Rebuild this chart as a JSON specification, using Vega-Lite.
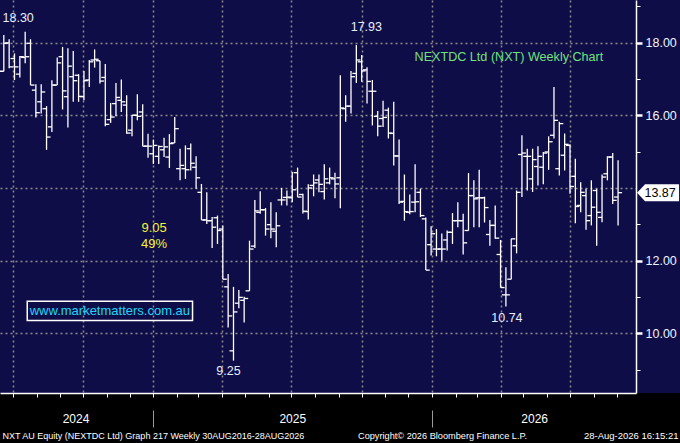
{
  "$schema": "https://vega.github.io/schema/vega-lite/v6.json",
  "width": 680,
  "height": 393,
  "autosize": "none",
  "padding": {"left": 0, "top": 0, "right": 0, "bottom": 50},
  "background": "#000000",
  "config": {
    "view": {"stroke": null, "fill": "#0f0d47"},
    "axis": {"labelFont": "Liberation Sans, Arial, sans-serif", "titleFont": "Liberation Sans, Arial, sans-serif"},
    "text": {"font": "Liberation Sans, Arial, sans-serif"}
  },
  "datasets": {
    "bars": [
      {"date": "2024-06-19", "open": 17.21, "high": 18.21, "low": 17.21, "close": 17.98},
      {"date": "2024-06-26", "open": 17.99, "high": 18.09, "low": 17.29, "close": 17.33},
      {"date": "2024-07-03", "open": 17.56, "high": 17.70, "low": 16.97, "close": 17.33},
      {"date": "2024-07-10", "open": 17.13, "high": 17.63, "low": 17.04, "close": 17.61},
      {"date": "2024-07-17", "open": 17.59, "high": 18.30, "low": 17.43, "close": 17.61},
      {"date": "2024-07-24", "open": 17.98, "high": 18.09, "low": 16.83, "close": 16.83},
      {"date": "2024-07-31", "open": 16.69, "high": 16.85, "low": 15.94, "close": 16.07},
      {"date": "2024-08-07", "open": 16.37, "high": 16.85, "low": 16.05, "close": 16.64},
      {"date": "2024-08-14", "open": 16.18, "high": 16.25, "low": 15.05, "close": 15.40},
      {"date": "2024-08-21", "open": 15.68, "high": 16.96, "low": 15.54, "close": 16.83},
      {"date": "2024-08-28", "open": 16.83, "high": 17.59, "low": 16.83, "close": 17.44},
      {"date": "2024-09-04", "open": 17.61, "high": 17.88, "low": 16.16, "close": 16.67},
      {"date": "2024-09-11", "open": 16.51, "high": 17.84, "low": 15.66, "close": 17.35},
      {"date": "2024-09-18", "open": 17.06, "high": 17.77, "low": 16.37, "close": 16.95},
      {"date": "2024-09-25", "open": 17.10, "high": 17.13, "low": 16.37, "close": 16.52},
      {"date": "2024-10-02", "open": 16.51, "high": 17.22, "low": 16.41, "close": 16.95},
      {"date": "2024-10-09", "open": 16.97, "high": 17.52, "low": 16.78, "close": 17.47},
      {"date": "2024-10-16", "open": 17.52, "high": 17.81, "low": 17.31, "close": 17.54},
      {"date": "2024-10-23", "open": 17.50, "high": 17.50, "low": 16.87, "close": 16.94},
      {"date": "2024-10-30", "open": 17.04, "high": 17.41, "low": 15.70, "close": 15.75},
      {"date": "2024-11-06", "open": 15.88, "high": 16.34, "low": 15.79, "close": 15.95},
      {"date": "2024-11-13", "open": 16.32, "high": 16.89, "low": 15.97, "close": 16.49},
      {"date": "2024-11-20", "open": 16.41, "high": 16.98, "low": 16.09, "close": 16.37},
      {"date": "2024-11-27", "open": 16.28, "high": 16.55, "low": 15.49, "close": 15.51},
      {"date": "2024-12-04", "open": 15.59, "high": 16.00, "low": 15.42, "close": 16.00},
      {"date": "2024-12-11", "open": 16.00, "high": 16.58, "low": 15.86, "close": 15.97},
      {"date": "2024-12-18", "open": 16.09, "high": 16.30, "low": 15.15, "close": 15.15},
      {"date": "2024-12-25", "open": 15.15, "high": 15.49, "low": 14.83, "close": 15.15},
      {"date": "2025-01-01", "open": 14.94, "high": 15.33, "low": 14.66, "close": 15.17},
      {"date": "2025-01-08", "open": 14.87, "high": 15.17, "low": 14.66, "close": 15.14},
      {"date": "2025-01-15", "open": 15.05, "high": 15.38, "low": 14.85, "close": 15.13},
      {"date": "2025-01-22", "open": 14.85, "high": 15.48, "low": 14.55, "close": 15.22},
      {"date": "2025-01-29", "open": 15.24, "high": 15.95, "low": 15.24, "close": 15.63},
      {"date": "2025-02-05", "open": 14.53, "high": 15.08, "low": 14.21, "close": 14.62},
      {"date": "2025-02-12", "open": 14.53, "high": 15.17, "low": 14.25, "close": 14.50},
      {"date": "2025-02-19", "open": 15.08, "high": 15.22, "low": 14.48, "close": 14.68},
      {"date": "2025-02-26", "open": 14.57, "high": 14.87, "low": 13.98, "close": 14.28},
      {"date": "2025-03-05", "open": 13.88, "high": 14.11, "low": 13.12, "close": 13.12},
      {"date": "2025-03-12", "open": 13.12, "high": 13.88, "low": 13.01, "close": 13.10},
      {"date": "2025-03-19", "open": 13.10, "high": 13.20, "low": 12.35, "close": 12.92},
      {"date": "2025-03-26", "open": 13.18, "high": 13.24, "low": 12.46, "close": 12.83},
      {"date": "2025-04-02", "open": 12.87, "high": 12.97, "low": 11.49, "close": 11.49},
      {"date": "2025-04-09", "open": 11.28, "high": 11.63, "low": 10.16, "close": 10.48},
      {"date": "2025-04-16", "open": 9.52, "high": 11.28, "low": 9.25, "close": 10.59},
      {"date": "2025-04-23", "open": 10.83, "high": 11.19, "low": 10.69, "close": 10.99},
      {"date": "2025-04-30", "open": 10.91, "high": 11.01, "low": 10.30, "close": 10.96},
      {"date": "2025-05-07", "open": 11.17, "high": 12.55, "low": 11.17, "close": 12.32},
      {"date": "2025-05-14", "open": 12.40, "high": 13.67, "low": 12.35, "close": 13.37},
      {"date": "2025-05-21", "open": 13.33, "high": 13.91, "low": 13.29, "close": 13.40},
      {"date": "2025-05-28", "open": 13.40, "high": 13.45, "low": 12.69, "close": 12.87},
      {"date": "2025-06-04", "open": 12.99, "high": 13.61, "low": 12.62, "close": 12.87},
      {"date": "2025-06-11", "open": 12.81, "high": 13.33, "low": 12.37, "close": 12.96},
      {"date": "2025-06-18", "open": 13.67, "high": 14.00, "low": 13.52, "close": 13.67},
      {"date": "2025-06-25", "open": 13.74, "high": 13.93, "low": 13.52, "close": 13.75},
      {"date": "2025-07-02", "open": 13.73, "high": 14.44, "low": 13.61, "close": 13.95},
      {"date": "2025-07-09", "open": 14.42, "high": 14.56, "low": 13.75, "close": 13.75},
      {"date": "2025-07-16", "open": 13.82, "high": 13.84, "low": 13.30, "close": 13.36},
      {"date": "2025-07-23", "open": 13.35, "high": 14.10, "low": 13.13, "close": 14.00},
      {"date": "2025-07-30", "open": 14.07, "high": 14.37, "low": 13.77, "close": 14.14},
      {"date": "2025-08-06", "open": 14.22, "high": 14.37, "low": 13.88, "close": 14.10},
      {"date": "2025-08-13", "open": 13.90, "high": 14.65, "low": 13.68, "close": 14.25},
      {"date": "2025-08-20", "open": 14.14, "high": 14.56, "low": 14.10, "close": 14.28},
      {"date": "2025-08-27", "open": 14.25, "high": 14.42, "low": 13.72, "close": 14.11},
      {"date": "2025-09-03", "open": 14.28, "high": 17.10, "low": 13.44, "close": 16.20},
      {"date": "2025-09-10", "open": 16.18, "high": 16.55, "low": 15.82, "close": 16.25},
      {"date": "2025-09-17", "open": 16.25, "high": 17.22, "low": 16.05, "close": 17.06},
      {"date": "2025-09-24", "open": 17.15, "high": 17.93, "low": 16.89, "close": 17.52},
      {"date": "2025-10-01", "open": 17.47, "high": 17.66, "low": 16.92, "close": 17.22},
      {"date": "2025-10-08", "open": 17.25, "high": 17.32, "low": 16.32, "close": 16.93},
      {"date": "2025-10-15", "open": 16.66, "high": 16.97, "low": 15.72, "close": 16.66},
      {"date": "2025-10-22", "open": 15.97, "high": 16.12, "low": 15.42, "close": 15.70},
      {"date": "2025-10-29", "open": 15.91, "high": 16.40, "low": 15.68, "close": 15.94},
      {"date": "2025-11-05", "open": 16.14, "high": 16.21, "low": 15.36, "close": 15.51},
      {"date": "2025-11-12", "open": 15.50, "high": 16.37, "low": 14.62, "close": 14.88},
      {"date": "2025-11-19", "open": 14.88, "high": 15.33, "low": 13.56, "close": 13.61},
      {"date": "2025-11-26", "open": 13.63, "high": 14.37, "low": 13.10, "close": 13.35},
      {"date": "2025-12-03", "open": 13.33, "high": 13.82, "low": 13.28, "close": 13.35},
      {"date": "2025-12-10", "open": 13.61, "high": 14.65, "low": 13.33, "close": 13.62},
      {"date": "2025-12-17", "open": 13.88, "high": 13.98, "low": 13.20, "close": 13.24},
      {"date": "2025-12-24", "open": 13.15, "high": 13.19, "low": 11.74, "close": 11.74},
      {"date": "2025-12-31", "open": 12.44, "high": 12.95, "low": 12.14, "close": 12.74},
      {"date": "2026-01-07", "open": 12.32, "high": 12.87, "low": 12.12, "close": 12.32},
      {"date": "2026-01-14", "open": 12.32, "high": 12.75, "low": 12.00, "close": 12.32},
      {"date": "2026-01-21", "open": 12.57, "high": 12.83, "low": 12.28, "close": 12.78},
      {"date": "2026-01-28", "open": 12.78, "high": 13.31, "low": 12.46, "close": 13.10},
      {"date": "2026-02-04", "open": 13.10, "high": 13.61, "low": 12.92, "close": 13.10},
      {"date": "2026-02-11", "open": 13.10, "high": 13.29, "low": 12.17, "close": 12.49},
      {"date": "2026-02-18", "open": 12.83, "high": 14.41, "low": 12.83, "close": 13.79},
      {"date": "2026-02-25", "open": 13.79, "high": 14.21, "low": 12.92, "close": 13.70},
      {"date": "2026-03-04", "open": 13.73, "high": 14.50, "low": 12.92, "close": 13.73},
      {"date": "2026-03-11", "open": 13.73, "high": 13.76, "low": 13.05, "close": 13.46},
      {"date": "2026-03-18", "open": 12.72, "high": 13.12, "low": 12.41, "close": 12.97},
      {"date": "2026-03-25", "open": 12.97, "high": 13.52, "low": 12.60, "close": 12.62},
      {"date": "2026-04-01", "open": 12.17, "high": 12.57, "low": 11.26, "close": 11.26},
      {"date": "2026-04-08", "open": 11.06, "high": 11.82, "low": 10.74, "close": 11.06},
      {"date": "2026-04-15", "open": 11.49, "high": 12.60, "low": 11.49, "close": 12.60},
      {"date": "2026-04-22", "open": 12.41, "high": 13.93, "low": 12.20, "close": 13.88},
      {"date": "2026-04-29", "open": 14.92, "high": 15.45, "low": 13.75, "close": 14.96},
      {"date": "2026-05-06", "open": 14.87, "high": 15.08, "low": 13.93, "close": 14.87},
      {"date": "2026-05-13", "open": 14.25, "high": 15.08, "low": 13.89, "close": 14.78},
      {"date": "2026-05-20", "open": 14.59, "high": 15.15, "low": 14.07, "close": 14.87},
      {"date": "2026-05-27", "open": 14.57, "high": 14.99, "low": 14.10, "close": 14.96},
      {"date": "2026-06-03", "open": 14.99, "high": 15.42, "low": 14.50, "close": 15.27},
      {"date": "2026-06-10", "open": 15.45, "high": 16.78, "low": 15.36, "close": 15.86},
      {"date": "2026-06-17", "open": 14.53, "high": 15.82, "low": 14.34, "close": 15.77},
      {"date": "2026-06-24", "open": 14.90, "high": 15.50, "low": 14.48, "close": 15.20},
      {"date": "2026-07-01", "open": 15.17, "high": 15.20, "low": 13.84, "close": 14.04},
      {"date": "2026-07-08", "open": 14.32, "high": 14.80, "low": 13.03, "close": 13.49},
      {"date": "2026-07-15", "open": 13.52, "high": 14.16, "low": 13.33, "close": 13.88},
      {"date": "2026-07-22", "open": 13.79, "high": 13.98, "low": 12.85, "close": 13.10},
      {"date": "2026-07-29", "open": 13.24, "high": 14.21, "low": 12.97, "close": 13.47},
      {"date": "2026-08-05", "open": 13.93, "high": 13.98, "low": 12.41, "close": 13.33},
      {"date": "2026-08-12", "open": 13.19, "high": 14.37, "low": 13.06, "close": 14.30},
      {"date": "2026-08-19", "open": 14.39, "high": 14.87, "low": 14.21, "close": 14.85},
      {"date": "2026-08-26", "open": 14.85, "high": 14.96, "low": 13.56, "close": 13.66},
      {"date": "2026-09-02", "open": 13.75, "high": 14.76, "low": 12.97, "close": 13.87}
    ],
    "notes": [
      {"kind": "high", "date": "2024-07-17", "value": 18.30, "label": "18.30"},
      {"kind": "high", "date": "2025-09-24", "value": 17.93, "label": "17.93"},
      {"kind": "low", "date": "2025-04-16", "value": 9.25, "label": "9.25"},
      {"kind": "low", "date": "2026-04-08", "value": 10.74, "label": "10.74"},
      {"kind": "drop", "date": "2025-01-02", "value": 12.90, "label": "9.05"},
      {"kind": "drop", "date": "2025-01-02", "value": 12.46, "label": "49%"},
      {"kind": "site", "date": "2024-11-05", "value": 10.62, "label": "www.marketmatters.com.au"},
      {"kind": "heading", "date": "2026-04-12", "value": 17.59, "label": "NEXTDC Ltd (NXT) Weekly Chart"},
      {"kind": "last", "date": "2026-09-02", "value": 13.87, "label": "13.87"}
    ]
  },
  "resolve": {"axis": {"x": "independent", "y": "independent"}},
  "layer": [
    {
      "data": {"name": "bars"},
      "mark": {"type": "rule", "color": "#ffffff", "strokeWidth": 1.3},
      "encoding": {
        "x": {
          "field": "date",
          "type": "temporal",
          "scale": {
            "domain": [{"year": 2024, "month": 6, "date": 14}, {"year": 2026, "month": 9, "date": 25, "hours": 12}],
            "range": [0, 636]
          },
          "axis": {
            "orient": "bottom",
            "values": [
              {"year": 2024, "month": 7, "date": 1}, {"year": 2024, "month": 8, "date": 1}, {"year": 2024, "month": 9, "date": 1},
              {"year": 2024, "month": 10, "date": 1}, {"year": 2024, "month": 11, "date": 1}, {"year": 2024, "month": 12, "date": 1},
              {"year": 2025, "month": 1, "date": 1}, {"year": 2025, "month": 2, "date": 1}, {"year": 2025, "month": 3, "date": 1},
              {"year": 2025, "month": 4, "date": 1}, {"year": 2025, "month": 5, "date": 1}, {"year": 2025, "month": 6, "date": 1},
              {"year": 2025, "month": 7, "date": 1}, {"year": 2025, "month": 8, "date": 1}, {"year": 2025, "month": 9, "date": 1},
              {"year": 2025, "month": 10, "date": 1}, {"year": 2025, "month": 11, "date": 1}, {"year": 2025, "month": 12, "date": 1},
              {"year": 2026, "month": 1, "date": 1}, {"year": 2026, "month": 2, "date": 1}, {"year": 2026, "month": 3, "date": 1},
              {"year": 2026, "month": 4, "date": 1}, {"year": 2026, "month": 5, "date": 1}, {"year": 2026, "month": 6, "date": 1},
              {"year": 2026, "month": 7, "date": 1}, {"year": 2026, "month": 8, "date": 1}, {"year": 2026, "month": 9, "date": 1}
            ],
            "labels": false,
            "grid": false,
            "ticks": true,
            "tickColor": "#ffffff",
            "tickSize": 4,
            "tickWidth": 1,
            "domain": true,
            "domainColor": "#ffffff",
            "domainWidth": 1.5,
            "title": "NXT AU Equity (NEXTDC Ltd) Graph 217 Weekly 30AUG2016-28AUG2026",
            "titleX": 2,
            "titleY": 42,
            "titleAlign": "left",
            "titleBaseline": "middle",
            "titleColor": "#ffffff",
            "titleFontSize": 9,
            "titleFontWeight": "normal"
          }
        },
        "y": {
          "field": "low",
          "type": "quantitative",
          "scale": {"domain": [8.36, 19.17], "nice": false, "zero": false},
          "axis": {
            "orient": "right",
            "offset": -44,
            "values": [10, 12, 16, 18],
            "format": ".2f",
            "grid": false,
            "domainColor": "#ffffff",
            "domainWidth": 1.5,
            "tickColor": "#ffffff",
            "tickSize": 6,
            "tickWidth": 2.5,
            "labelPadding": 3,
            "labelColor": "#eef4ff",
            "labelFontSize": 12.5,
            "title": null
          }
        },
        "y2": {"field": "high"}
      }
    },
    {
      "data": {"name": "bars"},
      "mark": {"type": "tick", "orient": "horizontal", "color": "#ffffff", "size": 4, "thickness": 1.3, "xOffset": -2, "opacity": 1},
      "encoding": {
        "x": {
          "field": "date",
          "type": "temporal",
          "axis": {
            "orient": "bottom",
            "values": [
              {"year": 2024, "month": 7, "date": 1}, {"year": 2024, "month": 10, "date": 1},
              {"year": 2025, "month": 1, "date": 1}, {"year": 2025, "month": 4, "date": 1},
              {"year": 2025, "month": 7, "date": 1}, {"year": 2025, "month": 10, "date": 1},
              {"year": 2026, "month": 1, "date": 1}, {"year": 2026, "month": 4, "date": 1},
              {"year": 2026, "month": 7, "date": 1}
            ],
            "grid": true,
            "gridColor": "#8c8c8c",
            "gridDash": [2, 3],
            "gridWidth": 1.5,
            "ticks": false,
            "labels": false,
            "domain": false,
            "title": null
          }
        },
        "y": {
          "field": "open",
          "type": "quantitative",
          "axis": {
            "orient": "left",
            "values": [10, 12, 14, 16, 18],
            "grid": true,
            "gridColor": "#8c8c8c",
            "gridDash": [2, 3],
            "gridWidth": 1.5,
            "ticks": false,
            "labels": false,
            "domain": false,
            "title": null
          }
        }
      }
    },
    {
      "data": {"name": "bars"},
      "mark": {"type": "tick", "orient": "horizontal", "color": "#ffffff", "size": 4, "thickness": 1.3, "xOffset": 2, "opacity": 1},
      "encoding": {
        "x": {
          "field": "date",
          "type": "temporal",
          "axis": {
            "orient": "bottom",
            "values": [
              {"year": 2024, "month": 9, "date": 21},
              {"year": 2025, "month": 7, "date": 2},
              {"year": 2026, "month": 5, "date": 15}
            ],
            "format": "%Y",
            "labelColor": "#ffffff",
            "labelFontSize": 12,
            "labelPadding": 20,
            "ticks": false,
            "tickSize": 0,
            "grid": false,
            "domain": false,
            "title": "Copyright© 2026 Bloomberg Finance L.P.",
            "titleX": 442,
            "titleY": 42,
            "titleAlign": "center",
            "titleBaseline": "middle",
            "titleColor": "#ffffff",
            "titleFontSize": 9.2,
            "titleFontWeight": "normal"
          }
        },
        "y": {
          "field": "close",
          "type": "quantitative",
          "axis": {
            "orient": "right",
            "offset": -44,
            "values": [9, 11, 13, 15, 17, 19],
            "grid": false,
            "labels": false,
            "domain": false,
            "tickColor": "#ffffff",
            "tickSize": 4,
            "tickWidth": 1,
            "title": null
          }
        }
      }
    },
    {
      "data": {"name": "notes"},
      "transform": [{"filter": "datum.kind == 'high' || datum.kind == 'low'"}],
      "mark": {
        "type": "text",
        "color": "#e6efff",
        "fontSize": 12.5,
        "align": "center",
        "baseline": "middle",
        "dx": {"expr": "datum.label == '18.30' ? -7 : datum.label == '17.93' ? 10 : datum.label == '9.25' ? -5 : 1"},
        "dy": {"expr": "datum.label == '18.30' ? -14 : datum.label == '17.93' ? -18 : datum.label == '9.25' ? 10 : 12"}
      },
      "encoding": {
        "x": {
          "field": "date",
          "type": "temporal",
          "axis": {
            "orient": "bottom",
            "values": [{"year": 2025, "month": 1, "date": 1}, {"year": 2026, "month": 1, "date": 1}],
            "offset": 17,
            "ticks": true,
            "tickColor": "#9a9a9a",
            "tickSize": 17,
            "tickWidth": 1,
            "labels": false,
            "grid": false,
            "domain": false,
            "title": "28-Aug-2026 16:15:21",
            "titleX": 678,
            "titleY": 25,
            "titleAlign": "right",
            "titleBaseline": "middle",
            "titleColor": "#ffffff",
            "titleFontSize": 9.5,
            "titleFontWeight": "normal"
          }
        },
        "y": {"field": "value", "type": "quantitative", "axis": null},
        "text": {"field": "label"}
      }
    },
    {
      "data": {"name": "notes"},
      "transform": [{"filter": "datum.kind == 'drop'"}],
      "mark": {"type": "text", "color": "#f2f23a", "fontSize": 13, "align": "center", "baseline": "middle"},
      "encoding": {
        "x": {"field": "date", "type": "temporal", "axis": null},
        "y": {"field": "value", "type": "quantitative", "axis": null},
        "text": {"field": "label"}
      }
    },
    {
      "data": {"name": "notes"},
      "transform": [{"filter": "datum.kind == 'site'"}],
      "mark": {
        "type": "point",
        "shape": "M-8.57,-1L8.57,-1L8.57,1L-8.57,1Z",
        "size": 372,
        "filled": false,
        "color": "#ffffff",
        "strokeWidth": 1.5,
        "opacity": 1
      },
      "encoding": {
        "x": {"field": "date", "type": "temporal", "axis": null},
        "y": {"field": "value", "type": "quantitative", "axis": null}
      }
    },
    {
      "data": {"name": "notes"},
      "transform": [{"filter": "datum.kind == 'site'"}],
      "mark": {"type": "text", "color": "#1fd7f5", "fontSize": 13, "align": "center", "baseline": "middle"},
      "encoding": {
        "x": {"field": "date", "type": "temporal", "axis": null},
        "y": {"field": "value", "type": "quantitative", "axis": null},
        "text": {"field": "label"}
      }
    },
    {
      "data": {"name": "notes"},
      "transform": [{"filter": "datum.kind == 'heading'"}],
      "mark": {"type": "text", "color": "#74e07c", "fontSize": 12.6, "align": "center", "baseline": "middle"},
      "encoding": {
        "x": {"field": "date", "type": "temporal", "axis": null},
        "y": {"field": "value", "type": "quantitative", "axis": null},
        "text": {"field": "label"}
      }
    },
    {
      "data": {"name": "notes"},
      "transform": [{"filter": "datum.kind == 'last'"}],
      "mark": {
        "type": "point",
        "shape": "M-2.1,0L-1.3,-0.85L2.1,-0.85L2.1,0.85L-1.3,0.85Z",
        "size": 400,
        "filled": true,
        "color": "#ffffff",
        "opacity": 1,
        "xOffset": 40
      },
      "encoding": {
        "x": {"field": "date", "type": "temporal", "axis": null},
        "y": {"field": "value", "type": "quantitative", "axis": null}
      }
    },
    {
      "data": {"name": "notes"},
      "transform": [{"filter": "datum.kind == 'last'"}],
      "mark": {"type": "text", "color": "#000000", "fontSize": 12.5, "align": "center", "baseline": "middle", "dx": 42},
      "encoding": {
        "x": {"field": "date", "type": "temporal", "axis": null},
        "y": {"field": "value", "type": "quantitative", "axis": null},
        "text": {"field": "label"}
      }
    }
  ]
}
